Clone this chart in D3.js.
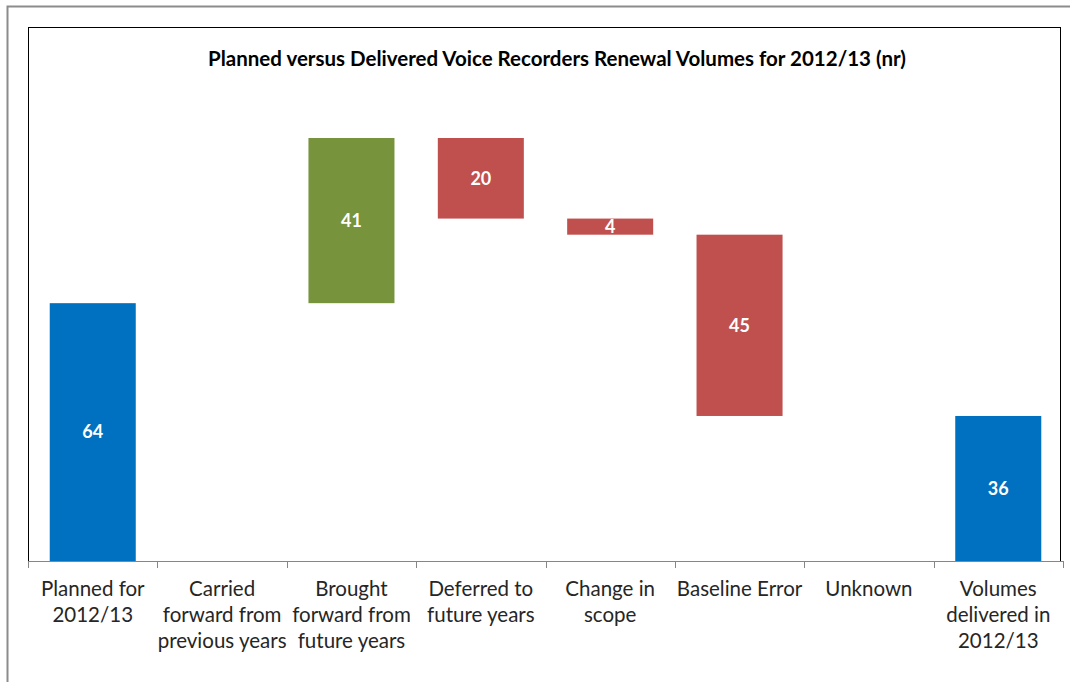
<!DOCTYPE html>
<html>
<head>
<meta charset="utf-8">
<script src="https://cdn.jsdelivr.net/npm/d3@7"></script>
<style>
  html, body { margin: 0; padding: 0; background: #fff; }
  svg { display: block; }
</style>
</head>
<body>
<svg id="chart" width="1070" height="682"></svg>
<script>
// Waterfall steps from the plan to the delivered volume
const categories = [
  "Planned for|2012/13",
  "Carried|forward from|previous years",
  "Brought|forward from|future years",
  "Deferred to|future years",
  "Change in|scope",
  "Baseline Error",
  "Unknown",
  "Volumes|delivered in|2012/13"
];
const changes = [64, 0, 41, -20, -4, -45, 0, 36];
const kinds = ["total", "step", "step", "step", "step", "step", "step", "total"];

const colors = { total: "#0070C0", up: "#77933C", down: "#C0504D" };
const font = "Lato, 'Open Sans', 'Liberation Sans', sans-serif";

// Build start/end for each waterfall bar
let running = 0;
const bars = categories.map((c, i) => {
  const v = changes[i];
  let y0, y1;
  if (kinds[i] === "total") { y0 = 0; y1 = v; running = v; }
  else { y0 = running; y1 = running + v; running = y1; }
  return { cat: c, value: v, kind: kinds[i], y0, y1 };
});

const svg = d3.select("#chart");

// Outer chart frame
svg.append("rect").attr("x", 7.5).attr("y", 6.5).attr("width", 1080).attr("height", 700)
  .attr("fill", "#fff").attr("stroke", "#8c8c8c").attr("stroke-width", 2);

const plotLeft = 28, plotRight = 1063, plotTop = 27, plotBottom = 561;

// Inner frame
svg.append("rect").attr("x", plotLeft + 0.5).attr("y", plotTop + 0.5)
  .attr("width", 1060 - plotLeft).attr("height", plotBottom - plotTop)
  .attr("fill", "none").attr("stroke", "#000").attr("stroke-width", 1);

const x = d3.scaleBand().domain(categories).range([plotLeft, plotRight]).paddingInner(0.335).paddingOuter(0.168);
const y = d3.scaleLinear().domain([0, 105]).range([plotBottom, 138]);

// Title
svg.append("text").attr("x", 557).attr("y", 66).attr("text-anchor", "middle")
  .attr("font-family", font).attr("font-weight", "bold").attr("font-size", 20.5)
  .attr("fill", "#000")
  .text("Planned versus Delivered Voice Recorders Renewal Volumes for 2012/13 (nr)");

// Bars
const drawn = bars.filter(d => d.value !== 0);
svg.append("g").selectAll("rect").data(drawn).join("rect")
  .attr("x", d => x(d.cat))
  .attr("width", x.bandwidth())
  .attr("y", d => y(Math.max(d.y0, d.y1)))
  .attr("height", d => Math.abs(y(d.y0) - y(d.y1)))
  .attr("fill", d => d.kind === "total" ? colors.total : (d.value > 0 ? colors.up : colors.down));

// Value labels
svg.append("g").selectAll("text").data(drawn).join("text")
  .attr("x", d => x(d.cat) + x.bandwidth() / 2)
  .attr("y", d => (y(d.y0) + y(d.y1)) / 2)
  .attr("dy", "0.35em")
  .attr("text-anchor", "middle")
  .attr("font-family", font).attr("font-weight", "bold").attr("font-size", 18)
  .attr("fill", "#fff")
  .text(d => Math.abs(d.value));

// Category axis
const xAxis = d3.axisBottom(x).tickSize(0).tickFormat("");
const gx = svg.append("g").attr("transform", `translate(0,${plotBottom})`).call(xAxis);
gx.select(".domain").attr("stroke", "#868686").attr("d", `M${plotLeft},0.5H${plotRight}`);

// Tick marks on category boundaries
const boundaries = d3.range(categories.length + 1)
  .map(i => plotLeft + i * (plotRight - plotLeft) / categories.length);
svg.append("g").selectAll("line").data(boundaries).join("line")
  .attr("x1", d => Math.round(d) + 0.5).attr("x2", d => Math.round(d) + 0.5)
  .attr("y1", plotBottom).attr("y2", plotBottom + 7)
  .attr("stroke", "#868686");

// Category labels, multi-line
const labels = svg.append("g").selectAll("text").data(categories).join("text")
  .attr("text-anchor", "middle")
  .attr("font-family", font).attr("font-size", 20.5).attr("fill", "#262626")
  .attr("transform", d => `translate(${x(d) + x.bandwidth() / 2},596)`);
labels.each(function(d) {
  const t = d3.select(this);
  d.split("|").forEach((line, i) => {
    t.append("tspan").attr("x", 0).attr("y", i * 26).text(line);
  });
});
</script>
</body>
</html>
